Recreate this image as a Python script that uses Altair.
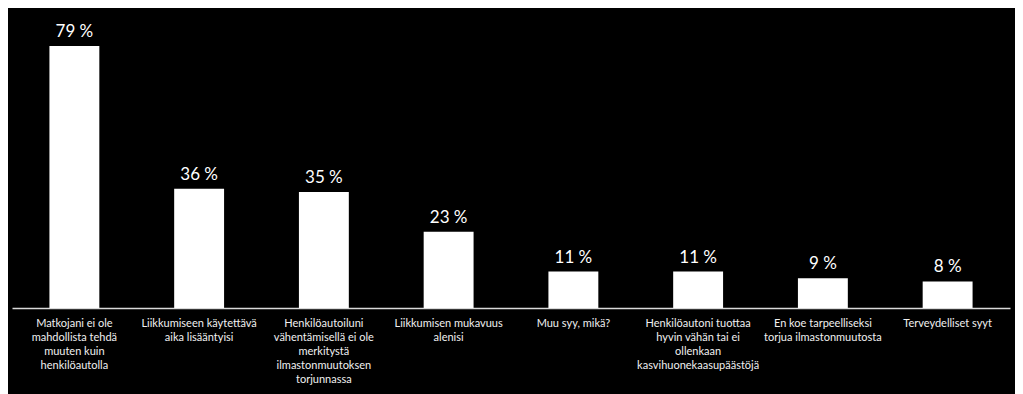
import altair as alt
import pandas as pd

categories = [
    "Matkojani ei ole|mahdollista tehdä|muuten kuin|henkilöautolla",
    "Liikkumiseen käytettävä|aika lisääntyisi",
    "Henkilöautoiluni|vähentämisellä ei ole|merkitystä|ilmastonmuutoksen|torjunnassa",
    "Liikkumisen mukavuus|alenisi",
    "Muu syy, mikä?",
    "Henkilöautoni tuottaa|hyvin vähän tai ei|ollenkaan|kasvihuonekaasupäästöjä",
    "En koe tarpeelliseksi|torjua ilmastonmuutosta",
    "Terveydelliset syyt",
]
values = [79, 36, 35, 23, 11, 11, 9, 8]
value_labels = ["79 %", "36 %", "35 %", "23 %", "11 %", "11 %", "9 %", "8 %"]

df = pd.DataFrame({"cat": categories, "val": values, "lab": value_labels})

FONT = "Lato"

x = alt.X(
    "cat:N",
    sort=categories,
    scale=alt.Scale(paddingInner=0.6, paddingOuter=0.3),
    axis=alt.Axis(
        title=None,
        labelExpr="split(datum.label, '|')",
        labelAngle=0,
        labelLimit=0,
        labelColor="#f0f0f0",
        labelFont=FONT,
        labelFontSize=11,
        labelLineHeight=14,
        labelPadding=9,
        labelBaseline="top",
        ticks=False,
        domainColor="#d9d9d9",
        domainWidth=1.5,
    ),
)
y = alt.Y("val:Q", scale=alt.Scale(domain=[0, 90.5], nice=False), axis=None)

bars = alt.Chart(df).mark_bar(color="white").encode(x=x, y=y)
text = alt.Chart(df).mark_text(
    color="white", font=FONT, fontSize=17, baseline="bottom", dy=-5
).encode(x=x, y=y, text="lab:N")

chart = (
    (bars + text)
    .properties(
        width=998,
        height=300,
        background="black",
        autosize=alt.AutoSizeParams(type="none"),
        padding={"left": 4, "top": 0, "right": 5, "bottom": 86},
    )
    .configure_view(stroke=None)
)

chart.save("out.html", embed_options={"renderer": "svg", "actions": False})
